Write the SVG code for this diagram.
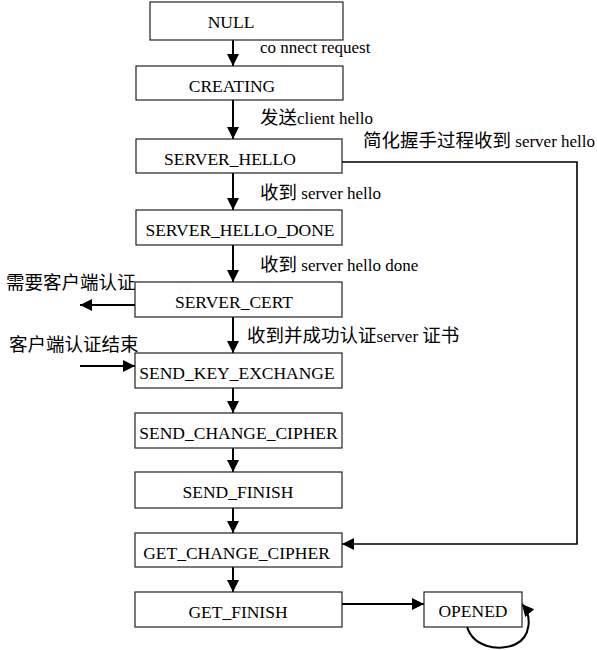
<svg xmlns="http://www.w3.org/2000/svg" width="597" height="650" viewBox="0 0 597 650">
<defs>
<style>
.box{fill:#fff;stroke:#222;stroke-width:1.2}
.t{font-family:"Liberation Serif","Noto Sans CJK SC",serif;font-size:17.5px;fill:#000;text-anchor:middle}
.l{font-family:"Liberation Serif","Noto Sans CJK SC",serif;font-size:17px;fill:#000}
.c{font-family:"Noto Sans CJK SC",sans-serif;font-size:18.5px}
.ln{fill:none;stroke:#000;stroke-width:2}
</style>
<marker id="ah" markerUnits="userSpaceOnUse" markerWidth="12" markerHeight="12" viewBox="0 0 10 10" refX="10" refY="5" orient="auto">
<path d="M0,0 L10,5 L0,10 z" fill="#000"/>
</marker>
</defs>
<g id="connectors">
<line class="ln" x1="233" y1="40" x2="233" y2="66" marker-end="url(#ah)"/>
<line class="ln" x1="233" y1="100" x2="233" y2="139" marker-end="url(#ah)"/>
<line class="ln" x1="233" y1="173" x2="233" y2="210" marker-end="url(#ah)"/>
<line class="ln" x1="233" y1="245" x2="233" y2="282" marker-end="url(#ah)"/>
<line class="ln" x1="233" y1="317" x2="233" y2="353" marker-end="url(#ah)"/>
<line class="ln" x1="233" y1="388" x2="233" y2="413" marker-end="url(#ah)"/>
<line class="ln" x1="233" y1="448" x2="233" y2="472" marker-end="url(#ah)"/>
<line class="ln" x1="233" y1="508" x2="233" y2="533" marker-end="url(#ah)"/>
<line class="ln" x1="233" y1="567" x2="233" y2="592" marker-end="url(#ah)"/>
<line class="ln" x1="135" y1="305" x2="80" y2="305" marker-end="url(#ah)"/>
<line class="ln" x1="80" y1="366" x2="135" y2="366" marker-end="url(#ah)"/>
<path class="ln" style="stroke-width:1.6" d="M342,162 H577 V544 H342" marker-end="url(#ah)"/>
<line class="ln" x1="342" y1="604" x2="424" y2="604" marker-end="url(#ah)"/>
<path class="ln" d="M466,622 C470,648 500,652 516,644 C530,637 533,617 522,604" marker-end="url(#ah)"/>
</g>
<g id="NULL"><rect class="box" x="150" y="2" width="193" height="38"/><text class="t" x="231" y="28">NULL</text></g>
<g id="CREATING"><rect class="box" x="136" y="66" width="207" height="34"/><text class="t" x="232" y="92">CREATING</text></g>
<g id="SERVER_HELLO"><rect class="box" x="136" y="139" width="206" height="34"/><text class="t" x="230" y="165">SERVER_HELLO</text></g>
<g id="SERVER_HELLO_DONE"><rect class="box" x="136" y="210" width="206" height="35"/><text class="t" x="240" y="236">SERVER_HELLO_DONE</text></g>
<g id="SERVER_CERT"><rect class="box" x="135" y="282" width="207" height="35"/><text class="t" x="234" y="308">SERVER_CERT</text></g>
<g id="SEND_KEY_EXCHANGE"><rect class="box" x="135" y="353" width="207" height="35"/><text class="t" x="237" y="379">SEND_KEY_EXCHANGE</text></g>
<g id="SEND_CHANGE_CIPHER"><rect class="box" x="135" y="413" width="207" height="35"/><text class="t" x="238.5" y="439">SEND_CHANGE_CIPHER</text></g>
<g id="SEND_FINISH"><rect class="box" x="135" y="472" width="207" height="36"/><text class="t" x="238" y="498">SEND_FINISH</text></g>
<g id="GET_CHANGE_CIPHER"><rect class="box" x="135" y="533" width="207" height="34"/><text class="t" x="236.5" y="559">GET_CHANGE_CIPHER</text></g>
<g id="GET_FINISH"><rect class="box" x="135" y="592" width="207" height="35"/><text class="t" x="238" y="618">GET_FINISH</text></g>
<g id="OPENED"><rect class="box" x="424" y="592" width="98" height="35"/><text class="t" x="473" y="617">OPENED</text></g>
<g id="labels">
<text class="l" x="260" y="53">co nnect request</text>
<text class="l" x="260" y="124"><tspan class="c">发送</tspan>client hello</text>
<text class="l" x="363" y="147"><tspan class="c">简化握手过程收到</tspan> server hello</text>
<text class="l" x="260" y="199"><tspan class="c">收到</tspan> server hello</text>
<text class="l" x="260" y="271"><tspan class="c">收到</tspan> server hello done</text>
<text class="l" x="6" y="289"><tspan class="c">需要客户端认证</tspan></text>
<text class="l" x="247" y="342"><tspan class="c">收到并成功认证</tspan>server <tspan class="c">证书</tspan></text>
<text class="l" x="9" y="351"><tspan class="c">客户端认证结束</tspan></text>
</g>
</svg>
